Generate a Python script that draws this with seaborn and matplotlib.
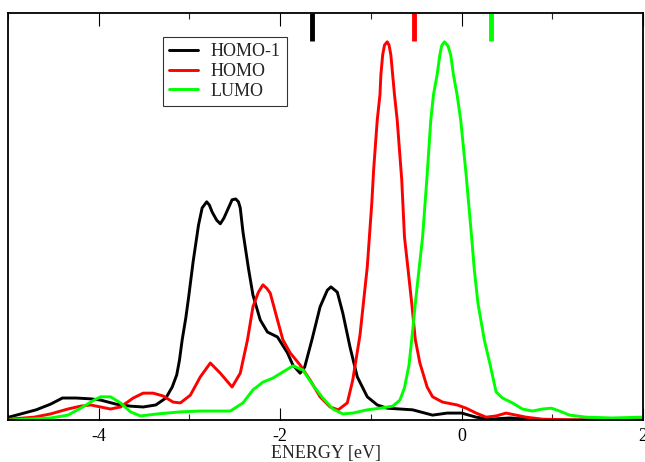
import matplotlib.pyplot as plt
from matplotlib.ticker import MultipleLocator, NullLocator
import pandas as pd
import seaborn as sns

# Curve data (energy in eV, intensity in arb. units)
homo1_x = [-4.99, -4.69, -4.53, -4.40, -4.25, -4.09, -3.98, -3.81, -3.65, -3.51,
           -3.37, -3.26, -3.19, -3.14, -3.11, -3.08, -3.04, -3.01, -2.96, -2.90,
           -2.86, -2.81, -2.78, -2.75, -2.70, -2.66, -2.62, -2.57, -2.53, -2.49,
           -2.46, -2.44, -2.41, -2.35, -2.30, -2.22, -2.14,
           -2.03, -1.92, -1.86, -1.78, -1.73, -1.65, -1.56, -1.48, -1.44, -1.37,
           -1.31, -1.23, -1.15, -1.04, -0.93, -0.82, -0.68, -0.54, -0.32, -0.16,
           0.00, 0.16, 0.31, 0.53, 0.78, 1.08, 2.00]
homo1_y = [0.007, 0.025, 0.039, 0.054, 0.054, 0.052, 0.049, 0.039, 0.034, 0.032,
           0.037, 0.054, 0.081, 0.111, 0.147, 0.197, 0.251, 0.300, 0.388, 0.479,
           0.521, 0.536, 0.528, 0.511, 0.491, 0.482, 0.496, 0.521, 0.541, 0.543,
           0.536, 0.521, 0.462, 0.373, 0.307, 0.246, 0.216,
           0.204, 0.165, 0.135, 0.115, 0.130, 0.197, 0.278, 0.319, 0.327, 0.314,
           0.263, 0.179, 0.106, 0.057, 0.037, 0.029, 0.027, 0.025, 0.012, 0.017,
           0.017, 0.007, 0.002, 0.005, 0.002, 0.0, 0.0]

homo_x = [-4.99, -4.71, -4.53, -4.34, -4.20, -4.09, -3.98, -3.87, -3.76, -3.62,
          -3.51, -3.40, -3.29, -3.18, -3.10, -2.99, -2.88, -2.77, -2.66, -2.53,
          -2.44, -2.36, -2.30, -2.24, -2.19, -2.15, -2.11, -2.03, -1.97, -1.89,
          -1.78, -1.67, -1.56, -1.45, -1.36, -1.26, -1.20, -1.12, -1.04, -0.99,
          -0.97, -0.93, -0.90, -0.89, -0.87, -0.85, -0.82, -0.80, -0.78, -0.76,
          -0.74, -0.71, -0.66, -0.63, -0.59, -0.55, -0.51, -0.46, -0.38, -0.32,
          -0.21, -0.05, 0.05, 0.16, 0.27, 0.38, 0.49, 0.60, 0.71, 0.89,
          1.30, 2.00]
homo_y = [0.002, 0.007, 0.015, 0.027, 0.034, 0.037, 0.032, 0.027, 0.032, 0.054,
          0.066, 0.066, 0.059, 0.044, 0.042, 0.061, 0.106, 0.140, 0.115, 0.081,
          0.115, 0.197, 0.278, 0.314, 0.332, 0.324, 0.312, 0.246, 0.197, 0.165,
          0.135, 0.098, 0.057, 0.032, 0.025, 0.042, 0.098, 0.209, 0.376, 0.533,
          0.614, 0.737, 0.799, 0.848, 0.897, 0.921, 0.929, 0.921, 0.897, 0.848,
          0.799, 0.737, 0.590, 0.450, 0.369, 0.287, 0.197, 0.140, 0.081, 0.057,
          0.044, 0.037, 0.029, 0.017, 0.007, 0.010, 0.017, 0.012, 0.007, 0.002,
          0.0, 0.0]

lumo_x = [-4.99, -4.53, -4.34, -4.20, -4.05, -3.98, -3.87, -3.76, -3.65, -3.54,
          -3.35, -3.10, -2.88, -2.55, -2.41, -2.30, -2.19, -2.08, -1.97, -1.86,
          -1.75, -1.64, -1.53, -1.42, -1.31, -1.20, -1.04, -0.90, -0.76, -0.68,
          -0.63, -0.58, -0.55, -0.51, -0.47, -0.43, -0.38, -0.34, -0.31, -0.27,
          -0.24, -0.22, -0.19, -0.15, -0.12, -0.09, -0.05, -0.01, 0.05, 0.11,
          0.14, 0.18, 0.25, 0.31, 0.38, 0.45, 0.56, 0.67, 0.78, 0.89,
          0.99, 1.08, 1.19, 1.37, 1.66, 2.00]
lumo_y = [0.0, 0.005, 0.012, 0.029, 0.049, 0.057, 0.057, 0.042, 0.020, 0.010,
          0.015, 0.020, 0.022, 0.022, 0.042, 0.074, 0.093, 0.103, 0.118, 0.133,
          0.123, 0.086, 0.054, 0.027, 0.015, 0.017, 0.025, 0.029, 0.034, 0.049,
          0.079, 0.135, 0.197, 0.287, 0.369, 0.450, 0.602, 0.737, 0.799, 0.848,
          0.897, 0.919, 0.929, 0.919, 0.897, 0.848, 0.799, 0.737, 0.602, 0.450,
          0.369, 0.287, 0.197, 0.140, 0.069, 0.054, 0.042, 0.027, 0.022, 0.027,
          0.029, 0.022, 0.012, 0.007, 0.005, 0.007]

# Level positions marked at the top of the plot
level_names = ['HOMO-1', 'HOMO', 'LUMO']
level_energy = [-1.65, -0.52, 0.32]
colors = ['#000000', '#ff0000', '#00ff00']

df = pd.concat([
    pd.DataFrame({'energy': homo1_x, 'dos': homo1_y, 'state': 'HOMO-1'}),
    pd.DataFrame({'energy': homo_x, 'dos': homo_y, 'state': 'HOMO'}),
    pd.DataFrame({'energy': lumo_x, 'dos': lumo_y, 'state': 'LUMO'}),
], ignore_index=True)

sns.set_style('ticks')
plt.rcParams['font.family'] = ['Liberation Serif', 'DejaVu Serif']
plt.rcParams['axes.unicode_minus'] = False

fig = plt.figure(figsize=(6.45, 4.62), dpi=100)
ax = fig.add_axes([0.0124, 0.0909, 0.9846, 0.8811])

sns.lineplot(data=df, x='energy', y='dos', hue='state', hue_order=level_names,
             palette=colors, estimator=None, sort=False, linewidth=2.1,
             solid_joinstyle='round', ax=ax)

for e, c in zip(level_energy, colors):
    ax.axvline(e, ymin=0.93, ymax=1.0, color=c, linewidth=3.5, solid_capstyle='butt')

ax.set_xlim(-5, 2)
ax.set_ylim(0, 1)
ax.xaxis.set_major_locator(MultipleLocator(2))
ax.xaxis.set_minor_locator(MultipleLocator(1))
ax.yaxis.set_major_locator(NullLocator())
ax.tick_params(axis='x', which='major', direction='in', top=True, length=9, width=0.8,
               labelsize=13, pad=6, colors='black')
ax.tick_params(axis='x', which='minor', direction='in', top=True, length=4.5, width=0.8)
for s in ax.spines.values():
    s.set_linewidth(1.3)
    s.set_color('black')

ax.set_xlabel('ENERGY [eV]', fontsize=13, labelpad=0)
ax.set_ylabel('')

leg = ax.legend(loc='upper left', bbox_to_anchor=(0.244, 0.941), borderaxespad=0,
                fontsize=13, frameon=True, fancybox=False, handlelength=1.6,
                labelspacing=0.15, borderpad=0.35, handletextpad=0.7)
leg.get_frame().set_edgecolor('black')
leg.get_frame().set_linewidth(0.8)
leg.set_title(None)

fig.savefig('out.png', dpi=100)
